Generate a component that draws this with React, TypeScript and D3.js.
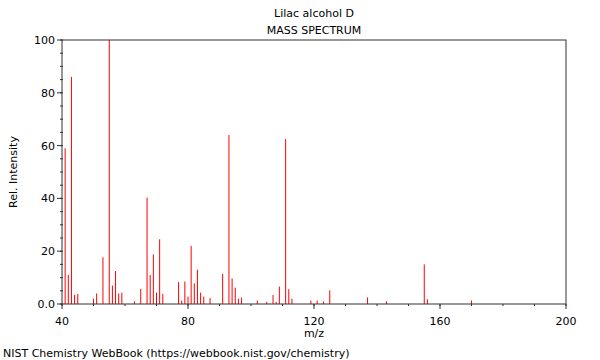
import React from 'react';
import * as d3 from 'd3';

// peaks
const mzValues = [41, 42, 43, 44, 45, 50, 51, 53, 55, 56, 57, 58, 59, 63, 65, 67, 68, 69, 70, 71, 72, 77, 78, 79, 80, 81, 82, 83, 84, 85, 87, 91, 93, 94, 95, 96, 97, 102, 105, 107, 108, 109, 111, 112, 113, 119, 121, 123, 125, 137, 143, 155, 156, 170];
const intensities = [59, 11, 86, 3.5, 3.8, 2, 4, 17.7, 100, 7, 12.5, 4, 4.3, 1, 5.7, 40.3, 11, 18.8, 4.3, 24.5, 3.8, 8.3, 1.3, 8.5, 2.8, 22, 7.8, 13, 4.3, 2.8, 2.3, 11.4, 64, 9.7, 6.2, 2, 2.4, 1.3, 0.8, 3.4, 0.8, 6.6, 62.5, 5.6, 2, 1.3, 1.3, 0.9, 5.2, 2.5, 1, 15, 1.8, 1.3];

const xTickLabels = [40, 80, 120, 160, 200];
const yTickLabels = [0, 20, 40, 60, 80, 100];

const title = 'Lilac alcohol D';
const subtitle = 'MASS SPECTRUM';

const App = () => {
  const width = 600, height = 360;
  const left = 62, right = 566, top = 40, bottom = 304;
  const font = 'DejaVu Sans, sans-serif';

  const x = d3.scaleLinear().domain([40, 200]).range([left, right]);
  const y = d3.scaleLinear().domain([0, 100]).range([bottom, top]);

  const xMinor = d3.range(40, 201, 10);
  const yMinor = d3.range(0, 101, 5);

  return (
    <svg width={width} height={height} style={{ position: 'absolute', left: 0, top: 0 }}>
      <rect width={width} height={height} fill="#fff" />
      <text x={(left + right) / 2} y={17} fontFamily={font} fontSize={11} textAnchor="middle">{title}</text>
      <text x={(left + right) / 2} y={34} fontFamily={font} fontSize={11} textAnchor="middle">{subtitle}</text>

      {/* peaks */}
      {mzValues.map((m, i) => (
        <line key={m} x1={x(m)} x2={x(m)} y1={y(0)} y2={y(intensities[i])} stroke="#ff0000" strokeWidth={1} />
      ))}

      {/* frame */}
      <rect x={left} y={top} width={right - left} height={bottom - top} fill="none" stroke="#333" strokeWidth={1} />

      {/* y ticks */}
      {yMinor.map(v => (
        <line key={'ym' + v} x1={left - 2} x2={left + 1} y1={y(v)} y2={y(v)} stroke="#333" />
      ))}
      {yTickLabels.map(v => (
        <g key={'y' + v}>
          <line x1={left - 5} x2={left} y1={y(v)} y2={y(v)} stroke="#333" />
          <text x={left - 7} y={y(v) + 4} fontFamily={font} fontSize={11} textAnchor="end">{v === 0 ? '0.0' : v}</text>
        </g>
      ))}

      {/* x ticks */}
      {xMinor.map(v => (
        <line key={'xm' + v} x1={x(v)} x2={x(v)} y1={bottom} y2={bottom + 2} stroke="#333" />
      ))}
      {xTickLabels.map(v => (
        <g key={'x' + v}>
          <line x1={x(v)} x2={x(v)} y1={bottom} y2={bottom + 5} stroke="#333" />
          <text x={x(v)} y={325} fontFamily={font} fontSize={11} textAnchor="middle">{v}</text>
        </g>
      ))}

      <text x={(left + right) / 2} y={337} fontFamily={font} fontSize={11} textAnchor="middle">m/z</text>
      <text transform={`translate(17,${(top + bottom) / 2}) rotate(-90)`} fontFamily={font} fontSize={11} textAnchor="middle">Rel. Intensity</text>
      <text x={3} y={357} fontFamily={font} fontSize={11}>NIST Chemistry WebBook (https://webbook.nist.gov/chemistry)</text>
    </svg>
  );
};

export default App;
